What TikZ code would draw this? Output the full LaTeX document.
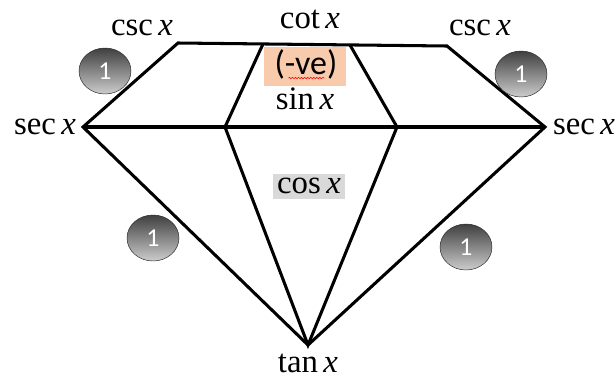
\documentclass[tikz,border=0pt]{standalone}
\usepackage{fontspec}
\setmainfont{Liberation Serif}
\newfontfamily\calfont{Carlito}
\usetikzlibrary{shapes.geometric,positioning,decorations.pathmorphing}
\definecolor{peach}{RGB}{248,203,173}
\definecolor{lightgrey}{RGB}{217,217,217}

\begin{document}
\begin{tikzpicture}[x=0.03cm, y=-0.03cm,
    edge/.style={line width=2.6pt, line join=miter},
    lbl/.style={font=\fontsize{28}{32}\selectfont, inner sep=0pt},
    ball/.style={ellipse, draw=black!85, thin, top color=black!75, bottom color=black!20, minimum width=1.56cm, minimum height=1.38cm, text=white, font=\calfont\fontsize{22}{26}\selectfont},
    tag/.style={inner sep=0pt, align=center}
]
\useasboundingbox (0,0) rectangle (616,378);

% corners of the diamond
\coordinate (secL) at (83,127);
\coordinate (secR) at (545,127);
\coordinate (tl) at (178,43);
\coordinate (tr) at (447,46);
\coordinate (itl) at (263,44);
\coordinate (itr) at (350,45);
\coordinate (iml) at (225,127);
\coordinate (imr) at (397,127);
\coordinate (tanv) at (308,345);

\node[tag, fill=peach, minimum width=2.46cm, minimum height=1.17cm] (neg) at (305,66.5) {};
\node[font=\calfont\fontsize{29}{33}\selectfont, inner sep=0pt] (negtxt) at (306,64) {(-ve)};
\draw[red, line width=0.5pt, decorate, decoration={snake, amplitude=0.6pt, segment length=2.6pt}] (negtxt.south west) ++(14,-1) -- ++(36,0);
\node[tag, fill=lightgrey, minimum width=2.16cm, minimum height=0.75cm] (cosbox) at (309,186.5) {};

\draw[edge] (secL) -- (tl) -- (tr) -- (secR) -- (tanv) -- cycle;
\draw[edge] (secL) -- (secR);
\draw[edge] (itl) -- (iml) -- (tanv) -- (imr) -- (itr);

\node[lbl] (cot) at (310,19) {cot\,\textit{x}};
\node[lbl] (cscL) at (142,28) {csc\,\textit{x}};
\node[lbl] (cscR) at (480,28) {csc\,\textit{x}};
\node[lbl] (secLt) at (45,127) {sec\,\textit{x}};
\node[lbl] (secRt) at (584,127) {sec\,\textit{x}};
\node[lbl] (sin) at (305,99) {sin\,\textit{x}};
\node[lbl] (cos) at (309,186) {cos\,\textit{x}};
\node[lbl] (tan) at (308,363) {tan\,\textit{x}};

\node[ball] (oneA) at (105,71) {1};
\node[ball] (oneB) at (521,74) {1};
\node[ball] (oneC) at (153,238) {1};
\node[ball] (oneD) at (466,247) {1};
\end{tikzpicture}
\end{document}
